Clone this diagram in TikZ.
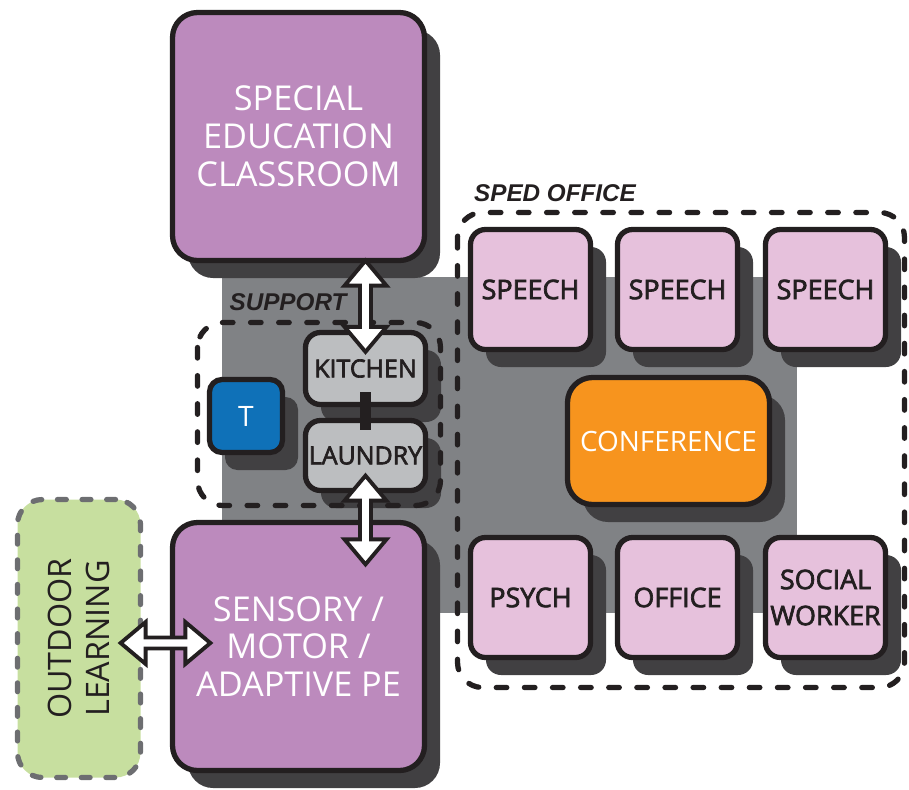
\documentclass[tikz,border=0pt]{standalone}
\usepackage{fontspec}
\setmainfont{Open Sans}
\newfontfamily\zonefont{Liberation Sans}
\newfontfamily\darkfont{Open Sans}[FakeBold=2.6]
\usetikzlibrary{positioning,shapes.arrows,shadows,calc}

\definecolor{ink}{HTML}{231F20}
\definecolor{shade}{HTML}{414042}
\definecolor{floorgray}{HTML}{808285}
\definecolor{roomviolet}{HTML}{BC8ABD}
\definecolor{roompink}{HTML}{E6C1DC}
\definecolor{roomorange}{HTML}{F7941E}
\definecolor{roomblue}{HTML}{0F71B8}
\definecolor{roomgray}{HTML}{BCBEC0}
\definecolor{yardgreen}{HTML}{C7DF9F}
\definecolor{yardline}{HTML}{6D6E71}

\tikzset{
  room/.style={draw=ink, line width=3pt, rounded corners=0.3cm, align=center, inner sep=0pt,
    drop shadow={shadow xshift=0.31cm, shadow yshift=-0.35cm, fill=shade, opacity=1}},
  bigroom/.style={room, rounded corners=0.5cm, fill=roomviolet, text=white,
    minimum width=5.04cm, minimum height=4.96cm, font=\fontsize{19.5}{21.5}\selectfont},
  officeroom/.style={room, fill=roompink, text=ink, minimum width=2.4cm, minimum height=2.4cm,
    font=\darkfont\fontsize{15.3}{20.5}\selectfont},
  serviceroom/.style={room, fill=roomgray, text=ink, minimum width=2.4cm,
    font=\darkfont\fontsize{14.2}{16}\selectfont},
  zone/.style={draw=ink, line width=3pt, dash pattern=on 6pt off 10pt, line cap=round, rounded corners=0.5cm},
  zonelabel/.style={text=ink, inner sep=0pt, font=\zonefont\bfseries\itshape\fontsize{13.8}{14}\selectfont},
  dblarrow/.style={double arrow, draw=ink, fill=white, line width=2.2pt, inner sep=0pt,
    minimum width=0.84cm, double arrow head extend=0.11cm, double arrow tip angle=80}
}

\begin{document}
\begin{tikzpicture}
\useasboundingbox (0,0) rectangle (18.18,-15.78);

% floor under support and office
\fill[floorgray] (4.44,-5.54) rectangle (15.94,-12.26);

% classrooms
\node[bigroom] (classroom) at (5.97,-2.73) {SPECIAL\\EDUCATION\\CLASSROOM};
\node[bigroom] (sensory) at (5.97,-12.93) {SENSORY /\\MOTOR /\\ADAPTIVE PE};

% outdoor
\node[draw=yardline, fill=yardgreen, line width=3pt, dash pattern=on 5pt off 9pt, line cap=round,
  rounded corners=0.5cm, minimum width=2.46cm, minimum height=5.56cm] (outdoor) at (1.58,-12.77) {};
\node[rotate=90, align=center, text=ink, font=\fontsize{18.4}{22}\selectfont] (outdoortext) at (outdoor) {OUTDOOR\\LEARNING};

% support
\node[serviceroom, minimum height=1.44cm] (kitchen) at (7.31,-7.37) {KITCHEN};
\node[serviceroom, minimum height=1.4cm] (laundry) at (7.31,-9.11) {LAUNDRY};
\node[room, rounded corners=0.25cm, fill=roomblue, text=white, minimum width=1.46cm, minimum height=1.46cm,
  font=\fontsize{16}{16}\selectfont] (toilet) at (4.92,-8.32) {T};
\draw[zone] (3.95,-6.45) rectangle (8.81,-10.11);
\node[zonelabel] (supportlabel) at (5.76,-6.04) {SUPPORT};

% sped office
\node[officeroom] (speech1) at (10.61,-5.79) {SPEECH};
\node[officeroom] (speech2) at (13.55,-5.79) {SPEECH};
\node[officeroom] (speech3) at (16.51,-5.79) {SPEECH};
\node[officeroom] (psych) at (10.61,-11.95) {PSYCH};
\node[officeroom] (office) at (13.55,-11.95) {OFFICE};
\node[officeroom] (social) at (16.51,-11.95) {SOCIAL\\WORKER};
\node[room, rounded corners=0.5cm, fill=roomorange, text=white, minimum width=4.04cm, minimum height=2.54cm,
  font=\fontsize{15.9}{18}\selectfont] (conference) at (13.37,-8.82) {CONFERENCE};
\draw[zone] (9.15,-4.25) rectangle (18.09,-13.75);
\node[zonelabel] (spedlabel) at (11.1,-3.86) {SPED OFFICE};

% links
\draw[ink, line width=6.8pt] ($(kitchen.south)+(0,0.3)$) -- ($(laundry.north)+(0,-0.25)$);
\coordinate (topA) at ($(kitchen.north |- classroom.south)+(0,0.05)$);
\coordinate (topB) at ($(kitchen.north)+(0,-0.44)$);
\coordinate (lowA) at ($(laundry.south)+(0,0.35)$);
\coordinate (lowB) at ($(laundry.south |- sensory.north)+(0,-0.89)$);
\coordinate (sideA) at ($(outdoor.east |- sensory.west)+(-0.45,0.07)$);
\coordinate (sideB) at ($(sensory.west)+(0.81,0.07)$);
\path let \p1=($(topB)-(topA)$), \n1={veclen(\x1,\y1)} in
  (topA) -- (topB) node[dblarrow, midway, sloped, minimum height=\n1] {};
\path let \p1=($(lowB)-(lowA)$), \n1={veclen(\x1,\y1)} in
  (lowA) -- (lowB) node[dblarrow, midway, sloped, minimum height=\n1] {};
\path let \p1=($(sideB)-(sideA)$), \n1={veclen(\x1,\y1)} in
  (sideA) -- (sideB) node[dblarrow, midway, sloped, minimum height=\n1] {};
\end{tikzpicture}
\end{document}
